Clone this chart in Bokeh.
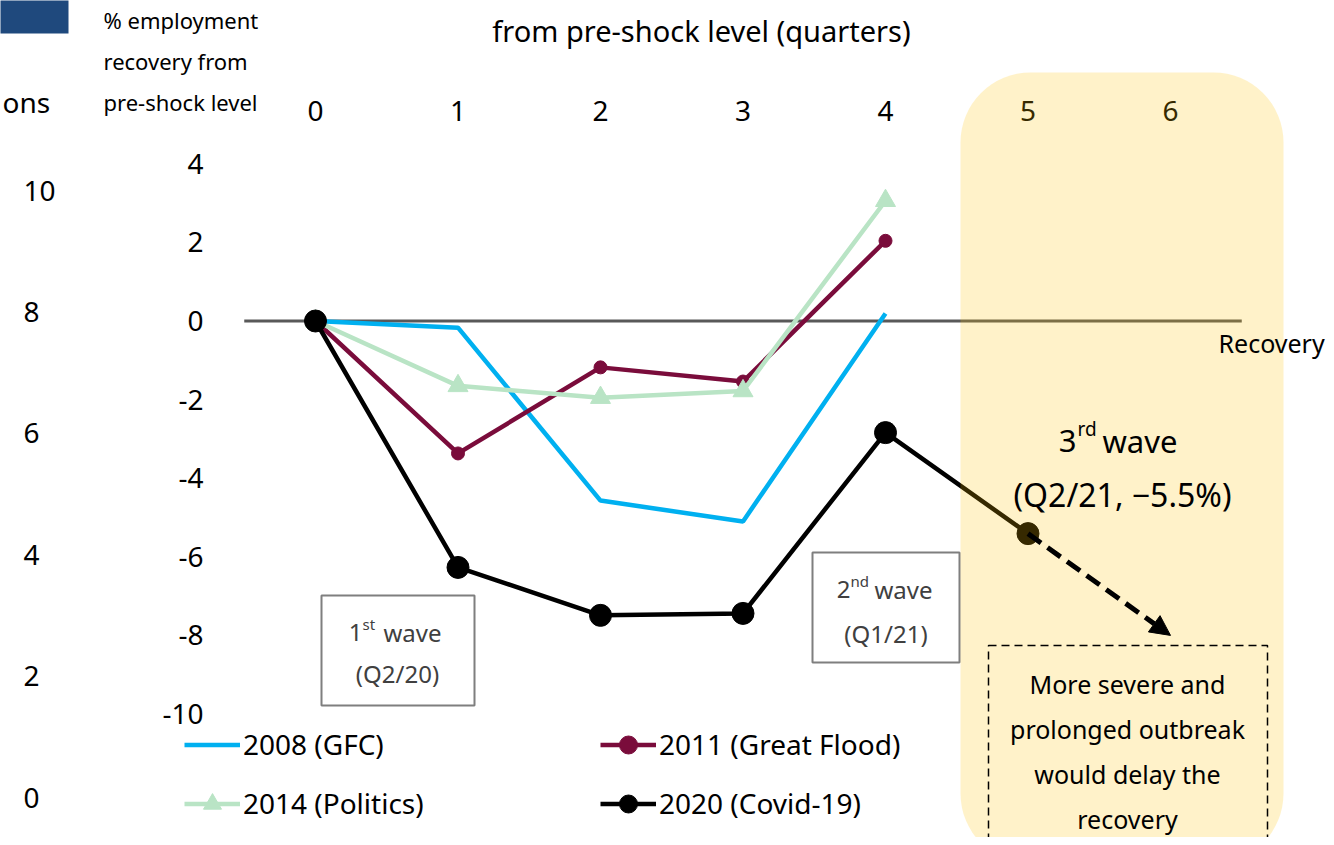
from bokeh.plotting import figure
from bokeh.models import (BoxAnnotation, Arrow, NormalHead, Legend, LegendItem, Range1d)
from bokeh.core.properties import value
from bokeh.embed import file_html
from bokeh.resources import INLINE

# ---------------- data ----------------
quarters = [0, 1, 2, 3, 4]
gfc_2008 = [0.0, -0.17, -4.57, -5.10, 0.19]
flood_2011 = [0.0, -3.37, -1.18, -1.54, 2.04]
politics_2014 = [0.0, -1.65, -1.95, -1.78, 3.06]
covid_quarters = [0, 1, 2, 3, 4, 5]
covid_2020 = [0.0, -6.27, -7.49, -7.44, -2.84, -5.41]
outlook_quarters = [5, 6]
outlook_values = [-5.41, -8.0]

quarter_ticks = [0, 1, 2, 3, 4, 5, 6]
y_ticks = [4, 2, 0, -2, -4, -6, -8, -10]
left_ticks = [10, 8, 6, 4, 2, 0]
series_labels = ["2008 (GFC)", "2011 (Great Flood)", "2014 (Politics)", "2020 (Covid-19)"]
zero_line_x = [-0.5, 6.5]
zero_line_y = [0, 0]
note_lines = ["More severe and", "prolonged outbreak", "would delay the", "recovery"]
axis_title_lines = ["% employment", "recovery from", "pre-shock level"]

# ---------------- layout helpers (positions given in canvas pixels) ----------------
W, H = 1326, 837
X0, XS = 315.0, 142.5
Y0, YS = 320.5, 39.3
L0, LS = 797.0, 60.7


def dx(px):
    return (px - X0) / XS


def dy(py):
    return (Y0 - py) / YS


FONT = value("Noto Sans")

p = figure(width=W, height=H,
           x_range=Range1d(dx(0), dx(W)),
           y_range=Range1d(dy(H), dy(0)),
           output_backend="svg", toolbar_location=None, min_border=0,
           x_axis_location=None, y_axis_location=None, outline_line_color=None)
p.extra_y_ranges = {"left2": Range1d((L0 - H) / LS, L0 / LS)}
p.grid.visible = False


def txt(x, y, t, size, align="center", color="black", baseline="middle",
        level="glyph", y_range_name="default"):
    return p.text(x=x, y=y, text=t, text_font=FONT, text_font_size=f"{size}px",
                  text_align=align, text_baseline=baseline, text_color=color,
                  level=level, y_range_name=y_range_name)


# decorative pieces outside the main plot
p.quad(left=[dx(-10)], right=[dx(68)], top=[dy(-10)], bottom=[dy(33)],
       fill_color="#1F497D", line_color=None)
txt([dx(2)], [dy(101)], ["ons"], 28, align="left")
txt([dx(103)] * 3, [dy(19), dy(60), dy(101)], axis_title_lines, 22, align="left")
txt([dx(701)], [dy(30)], ["from pre-shock level (quarters)"], 29, baseline="alphabetic")

# tick labels
txt(quarter_ticks, [dy(110)] * len(quarter_ticks), [str(q) for q in quarter_ticks], 28)
txt([dx(203)] * len(y_ticks), y_ticks, [str(v) for v in y_ticks], 28, align="right")
txt([dx(23)] * len(left_ticks), left_ticks, [str(v) for v in left_ticks], 28,
    align="left", y_range_name="left2")

# zero line
p.line(zero_line_x, zero_line_y, line_color="#595959", line_width=3)

# wave boxes
p.quad(left=[dx(321), dx(812)], right=[dx(474), dx(959)], top=[dy(595), dy(552)],
       bottom=[dy(705), dy(662)], fill_color="white", line_color="#7F7F7F", line_width=2)
GREY = "#404040"
txt([dx(362)], [dy(632)], ["1"], 24, align="right", color=GREY)
txt([dx(362)], [dy(623)], ["st"], 15, align="left", color=GREY)
txt([dx(383)], [dy(632)], ["wave"], 24, align="left", color=GREY)
txt([dx(397)], [dy(673)], ["(Q2/20)"], 24, color=GREY)
txt([dx(850)], [dy(589)], ["2"], 24, align="right", color=GREY)
txt([dx(850)], [dy(580)], ["nd"], 15, align="left", color=GREY)
txt([dx(874)], [dy(589)], ["wave"], 24, align="left", color=GREY)
txt([dx(885.5)], [dy(633)], ["(Q1/21)"], 24, color=GREY)

# series
BLUE, MAROON, GREEN = "#00B0F0", "#7A0C3B", "#B9E4C5"
r_gfc = p.line(quarters, gfc_2008, line_color=BLUE, line_width=4.5)
r_fl = p.line(quarters, flood_2011, line_color=MAROON, line_width=4.5)
r_fl_m = p.scatter(quarters, flood_2011, marker="circle", size=13, color=MAROON)
r_po = p.line(quarters, politics_2014, line_color=GREEN, line_width=4.5)
r_po_m = p.scatter(quarters, politics_2014, marker="triangle", size=20, color=GREEN)
r_cv = p.line(covid_quarters, covid_2020, line_color="black", line_width=4.5)
r_cv_m = p.scatter(covid_quarters, covid_2020, marker="circle", size=22, color="black")

# shaded outlook region (semi-transparent over the lines)
p.add_layout(BoxAnnotation(left=dx(960), right=dx(1283), top=dy(72), bottom=dy(863),
                           fill_color="#FFC000", fill_alpha=0.21, line_color=None,
                           border_radius=70))

# texts / arrow above the shaded region
txt([dx(1218)], [dy(342)], ["Recovery"], 25, align="left", level="overlay")
txt([dx(1076)], [dy(440)], ["3"], 31, align="right", level="overlay")
txt([dx(1077)], [dy(428)], ["rd"], 19, align="left", level="overlay")
txt([dx(1102)], [dy(440)], ["wave"], 31, align="left", level="overlay")
txt([dx(1122)], [dy(494)], ["(Q2/21, \u22125.5%)"], 32, level="overlay")

p.add_layout(Arrow(x_start=outlook_quarters[0], y_start=outlook_values[0],
                   x_end=outlook_quarters[1], y_end=outlook_values[1],
                   line_width=5, line_dash="16 8", line_color="black",
                   end=NormalHead(size=20, fill_color="black", line_color="black"),
                   level="overlay"))

p.quad(left=[dx(988)], right=[dx(1267)], top=[dy(645)], bottom=[dy(880)],
       fill_color=None, line_color="black", line_dash="8 5", line_width=1.5, level="overlay")
txt([dx(1127)] * 4, [dy(683), dy(728), dy(773), dy(818)], note_lines, 25, level="overlay")

# legends
common = dict(orientation="vertical", padding=0, margin=0, spacing=14, glyph_width=56,
              glyph_height=45, label_height=45, label_standoff=3,
              label_text_font="Noto Sans", label_text_font_size="28px",
              label_text_color="black",
              border_line_color=None, background_fill_alpha=0)
leg_bottom = H - (744 - 22.5 + 45 + 14 + 45)
leg1 = Legend(items=[LegendItem(label=value(series_labels[0]), renderers=[r_gfc]),
                     LegendItem(label=value(series_labels[2]), renderers=[r_po, r_po_m])],
              location=(184, leg_bottom), **common)
leg2 = Legend(items=[LegendItem(label=value(series_labels[1]), renderers=[r_fl, r_fl_m]),
                     LegendItem(label=value(series_labels[3]), renderers=[r_cv, r_cv_m])],
              location=(600, leg_bottom), **common)
p.add_layout(leg1)
p.add_layout(leg2)

open("out.html", "w").write(file_html(p, INLINE))
